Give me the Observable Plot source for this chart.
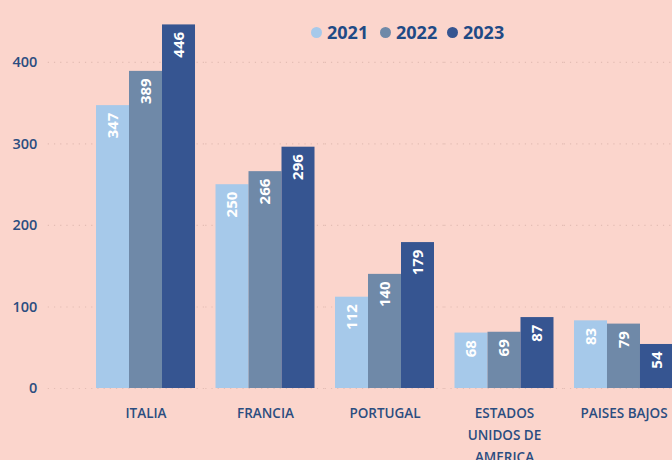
<!DOCTYPE html>
<html>
<head>
<meta charset="utf-8">
<script src="https://cdn.jsdelivr.net/npm/d3@7"></script>
<script src="https://cdn.jsdelivr.net/npm/@observablehq/plot@0.6"></script>
<style>
  html, body { margin: 0; padding: 0; background: #fbd5cc; width: 672px; height: 460px; overflow: hidden; }
  #wrap { position: relative; width: 672px; height: 460px; overflow: hidden; font-family: "Open Sans", sans-serif; }
  #chart { position: absolute; left: 0; top: 0; }
  #chart svg { max-width: none !important; }
  #legend { position: absolute; top: 20px; left: 0; height: 24px; }
  .item { position: absolute; top: 0; height: 24px; display: flex; align-items: center; font-weight: 700; font-size: 18px; color: #1f4a85; }
  .dot { width: 11px; height: 11px; border-radius: 50%; margin-right: 5px; }
</style>
</head>
<body>
<div id="wrap">
  <div id="chart"></div>
  <div id="legend"></div>
</div>
<script>
const countries = ["ITALIA", "FRANCIA", "PORTUGAL", "ESTADOS UNIDOS DE AMERICA", "PAISES BAJOS"];
const countryLabels = ["ITALIA", "FRANCIA", "PORTUGAL", "ESTADOS\nUNIDOS DE\nAMERICA", "PAISES BAJOS"];
const years = ["2021", "2022", "2023"];
const v2021 = [347, 250, 112, 68, 83];
const v2022 = [389, 266, 140, 69, 79];
const v2023 = [446, 296, 179, 87, 54];
const yTicks = [0, 100, 200, 300, 400];
const colors = ["#a6c9ea", "#6f89a8", "#365591"];

const series = [v2021, v2022, v2023];
const data = [];
countries.forEach((c, i) => {
  years.forEach((y, j) => data.push({ country: c, year: y, value: series[j][i] }));
});
// grid rows per facet; the first facet's rows reach back to the axis
const gridFirst = yTicks.map(y => ({ y, country: countries[0] }));
const gridRest = [];
countries.slice(1).forEach(c => yTicks.forEach(y => gridRest.push({ y, country: c })));

const gridStyle = { stroke: "#e3bdb4", strokeWidth: 1.2, strokeDasharray: "1.2,5" };

const chart = Plot.plot({
  width: 721,
  height: 460,
  marginLeft: 48,
  marginRight: 0,
  marginTop: 13,
  marginBottom: 72,
  style: { background: "transparent", fontFamily: "Open Sans, sans-serif", color: "#2b4d80", overflow: "visible", maxWidth: "none" },
  fx: { domain: countries, paddingInner: 0, paddingOuter: 0.316, round: false, label: null, axis: null },
  x: { domain: years, paddingInner: 0, paddingOuter: 0.3106, round: false, axis: null },
  y: { domain: [0, 460], axis: null },
  color: { domain: years, range: colors },
  marks: [
    Plot.ruleY(gridFirst, { fx: "country", y: "y", insetLeft: -38, ...gridStyle }),
    Plot.ruleY(gridRest, { fx: "country", y: "y", ...gridStyle }),
    Plot.barY(data, { fx: "country", x: "year", y: "value", fill: "year" }),
    Plot.text(data, {
      fx: "country", x: "year", y: "value", text: d => String(d.value),
      rotate: -90, textAnchor: "end", lineAnchor: "middle", dy: 7,
      fill: "white", fontWeight: 700, fontSize: 15
    }),
    Plot.axisY(yTicks, { tickSize: 0, tickPadding: 49, fontSize: 14.5, fontWeight: 600, fill: "#2b4d80", label: null }),
    Plot.axisFx({
      anchor: "bottom",
      tickFormat: d => countryLabels[countries.indexOf(d)],
      tickSize: 0, tickPadding: 14, lineHeight: 1.62, fontSize: 13.5, fontWeight: 600, fill: "#2b4d80", label: null
    })
  ]
});
document.getElementById("chart").appendChild(chart);

const legend = document.getElementById("legend");
const legendX = [311, 380, 447];
years.forEach((y, i) => {
  const it = document.createElement("div");
  it.className = "item";
  it.style.left = legendX[i] + "px";
  const dot = document.createElement("span");
  dot.className = "dot";
  dot.style.background = colors[i];
  const t = document.createElement("span");
  t.textContent = y;
  it.appendChild(dot);
  it.appendChild(t);
  legend.appendChild(it);
});
</script>
</body>
</html>
